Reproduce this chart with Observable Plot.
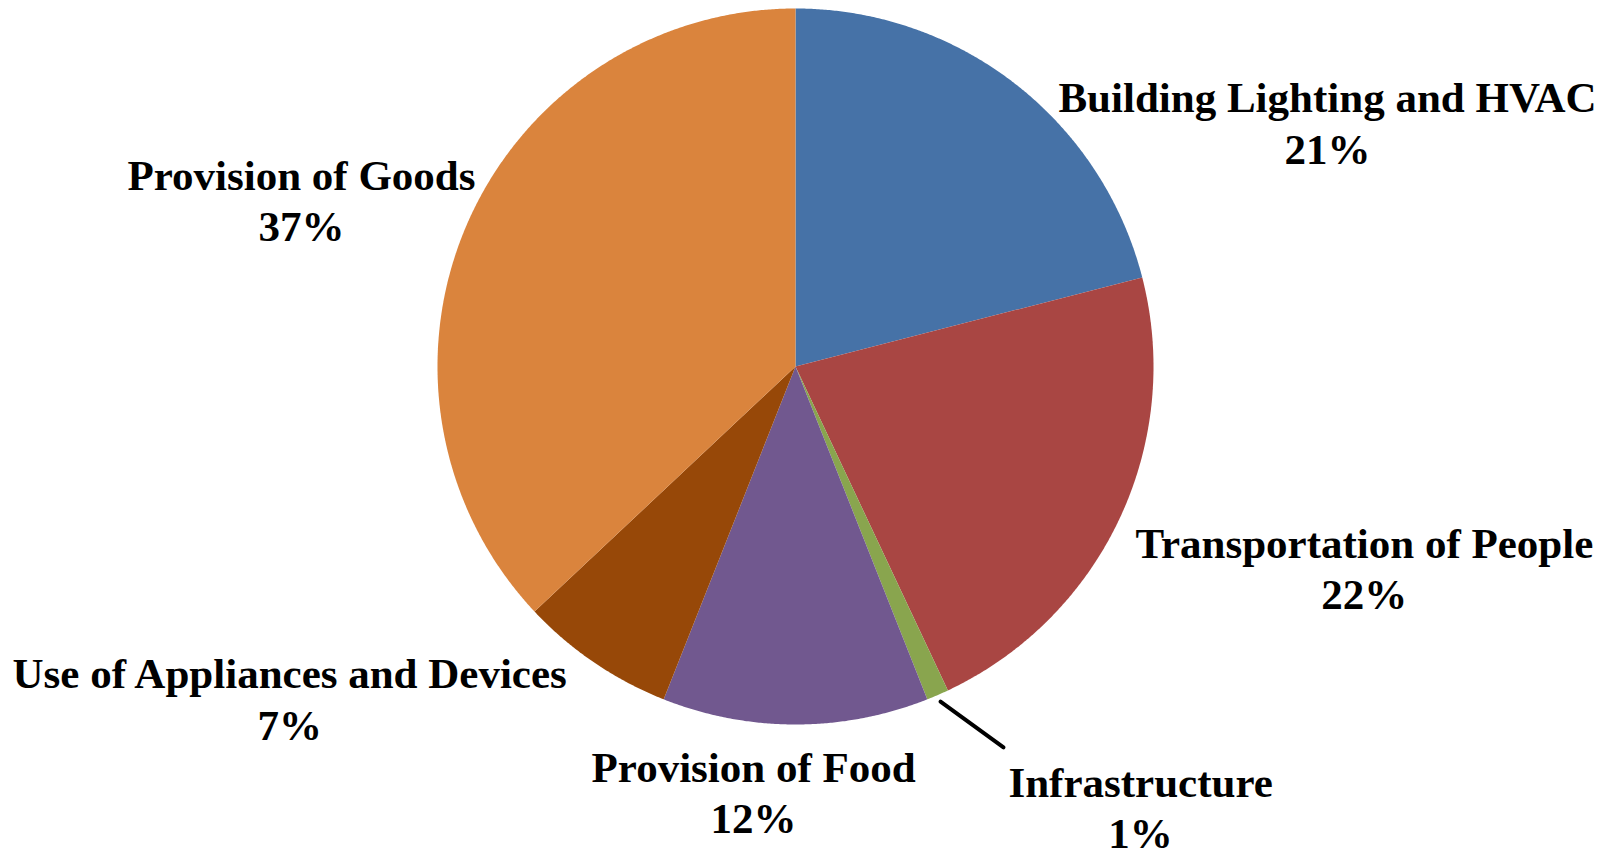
<!DOCTYPE html>
<html>
<head>
<meta charset="utf-8">
<script src="https://cdn.jsdelivr.net/npm/d3@7"></script>
<script src="https://cdn.jsdelivr.net/npm/@observablehq/plot@0.6"></script>
<style>
  html, body { margin: 0; padding: 0; background: #ffffff; }
  #chart svg { display: block; }
</style>
</head>
<body>
<div id="chart"></div>
<script>
// ---- data ----
const categories = [
  "Building Lighting and HVAC",
  "Transportation of People",
  "Infrastructure",
  "Provision of Food",
  "Use of Appliances and Devices",
  "Provision of Goods"
];
const shares = [21, 22, 1, 12, 7, 37];
const percentLabels = ["21%", "22%", "1%", "12%", "7%", "37%"];
const sliceColors = ["#4672A7", "#A94643", "#89A54E", "#71588F", "#974808", "#DA843D"];

// label anchors, in units of the pie radius, relative to the pie centre (y downward)
const labelX = [1.486, 1.589, 0.964, -0.117, -1.413, -1.380];
const labelY = [-0.684, 0.561, 1.229, 1.187, 0.925, -0.467];
// leader line for the small slice
const leaderFrom = 1.02;            // radial fraction at slice edge
const leaderEnd = {x: 0.581, y: 1.064};

// ---- layout ----
const W = 1609, H = 851;
const cx = 795, cy = 366, R = 358;

const pie = d3.pie().sort(null).value(d => d.value);
const arcs = pie(categories.map((c, i) => ({name: c, value: shares[i]})));

// polygon points of each slice, in unit coordinates (x right, y down)
const slicePts = [];
arcs.forEach(a => {
  const name = a.data.name;
  slicePts.push({name, x: 0, y: 0});
  const n = Math.max(2, Math.ceil((a.endAngle - a.startAngle) / 0.005));
  for (let k = 0; k <= n; k++) {
    const t = a.startAngle + (a.endAngle - a.startAngle) * k / n;
    slicePts.push({name, x: Math.sin(t), y: -Math.cos(t)});
  }
  slicePts.push({name, x: 0, y: 0});
});

const labels = categories.map((c, i) => ({
  text: c + "\n" + percentLabels[i], x: labelX[i], y: labelY[i]
}));

// leader line for Infrastructure
const infra = arcs[2];
const mid = (infra.startAngle + infra.endAngle) / 2;
const leader = [
  {x: Math.sin(mid) * leaderFrom, y: -Math.cos(mid) * leaderFrom},
  {x: leaderEnd.x, y: leaderEnd.y}
];

const chart = Plot.plot({
  width: W,
  height: H,
  margin: 0,
  x: {domain: [-cx / R, (W - cx) / R], range: [0, W], axis: null},
  y: {domain: [-cy / R, (H - cy) / R], range: [0, H], axis: null},
  color: {domain: categories, range: sliceColors},
  style: {background: "#ffffff"},
  marks: [
    Plot.line(slicePts, {x: "x", y: "y", z: "name", fill: "name", stroke: "none", curve: "linear"}),
    Plot.line(leader, {x: "x", y: "y", stroke: "#000000", strokeWidth: 4}),
    Plot.text(labels, {
      x: "x", y: "y", text: "text",
      fontSize: 43, fontWeight: "bold",
      fontFamily: "'Liberation Serif', 'Times New Roman', serif",
      fill: "#000000", lineHeight: 1.19, lineAnchor: "middle", textAnchor: "middle"
    })
  ]
});
document.getElementById("chart").appendChild(chart);
</script>
</body>
</html>
